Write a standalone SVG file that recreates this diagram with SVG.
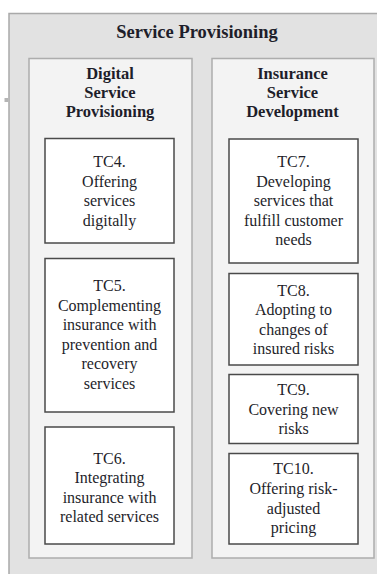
<svg xmlns="http://www.w3.org/2000/svg" width="377" height="574" viewBox="0 0 377 574">
  <style>
    .outer { fill: #e2e2e2; stroke: #a9a9a9; stroke-width: 1.5; }
    .panel { fill: #f3f3f3; stroke: #adadad; stroke-width: 1.5; }
    .box { fill: #ffffff; stroke: #4a4a4a; stroke-width: 1.5; }
    text { font-family: 'Liberation Serif', 'DejaVu Serif', 'Times New Roman', serif; fill: #1e1e2a; text-anchor: middle; }
    .title { font-size: 18.5px; font-weight: bold; }
    .head { font-size: 16.5px; font-weight: bold; }
    .lbl { font-size: 16px; }
  </style>
  <rect width="377" height="574" fill="#ffffff"/>

  <!-- outer container -->
  <g id="service-provisioning">
    <rect class="outer" x="9" y="13.5" width="380" height="575"/>
    <text class="title" x="197" y="38">Service Provisioning</text>
  </g>
  <rect x="4.5" y="98" width="4" height="4" fill="#b5b5b5"/>

  <!-- left panel -->
  <g id="digital-service-provisioning">
    <rect class="panel" x="29" y="58.5" width="163" height="499.5"/>
    <text class="head" x="110" y="79">Digital</text>
    <text class="head" x="110" y="98">Service</text>
    <text class="head" x="110" y="117">Provisioning</text>
  </g>

  <!-- right panel -->
  <g id="insurance-service-development">
    <rect class="panel" x="212" y="58.5" width="162" height="499.5"/>
    <text class="head" x="292.5" y="79">Insurance</text>
    <text class="head" x="292.5" y="98">Service</text>
    <text class="head" x="292.5" y="117">Development</text>
  </g>

  <g id="tc4">
    <rect class="box" x="45" y="138.5" width="129" height="104.5"/>
    <text class="lbl" x="109.5" y="167">TC4.</text>
    <text class="lbl" x="109.5" y="186.5">Offering</text>
    <text class="lbl" x="109.5" y="206">services</text>
    <text class="lbl" x="109.5" y="225.5">digitally</text>
  </g>

  <g id="tc5">
    <rect class="box" x="45" y="258.5" width="129" height="153.5"/>
    <text class="lbl" x="109.5" y="291">TC5.</text>
    <text class="lbl" x="109.5" y="310.5">Complementing</text>
    <text class="lbl" x="109.5" y="330">insurance with</text>
    <text class="lbl" x="109.5" y="349.5">prevention and</text>
    <text class="lbl" x="109.5" y="369">recovery</text>
    <text class="lbl" x="109.5" y="388.5">services</text>
  </g>

  <g id="tc6">
    <rect class="box" x="45" y="427" width="129" height="117"/>
    <text class="lbl" x="109.5" y="463.5">TC6.</text>
    <text class="lbl" x="109.5" y="483">Integrating</text>
    <text class="lbl" x="109.5" y="502.5">insurance with</text>
    <text class="lbl" x="109.5" y="522">related services</text>
  </g>

  <g id="tc7">
    <rect class="box" x="229" y="139" width="129" height="124"/>
    <text class="lbl" x="293.5" y="167">TC7.</text>
    <text class="lbl" x="293.5" y="186.5">Developing</text>
    <text class="lbl" x="293.5" y="206">services that</text>
    <text class="lbl" x="293.5" y="225.5">fulfill customer</text>
    <text class="lbl" x="293.5" y="245">needs</text>
  </g>

  <g id="tc8">
    <rect class="box" x="229" y="273.5" width="129" height="91.5"/>
    <text class="lbl" x="293.5" y="295.5">TC8.</text>
    <text class="lbl" x="293.5" y="315">Adopting to</text>
    <text class="lbl" x="293.5" y="334.5">changes of</text>
    <text class="lbl" x="293.5" y="354">insured risks</text>
  </g>

  <g id="tc9">
    <rect class="box" x="229" y="374.5" width="129" height="69"/>
    <text class="lbl" x="293.5" y="394.5">TC9.</text>
    <text class="lbl" x="293.5" y="414.5">Covering new</text>
    <text class="lbl" x="293.5" y="434">risks</text>
  </g>

  <g id="tc10">
    <rect class="box" x="229" y="453.5" width="129" height="90.5"/>
    <text class="lbl" x="293.5" y="473.5">TC10.</text>
    <text class="lbl" x="293.5" y="493.5">Offering risk-</text>
    <text class="lbl" x="293.5" y="513.5">adjusted</text>
    <text class="lbl" x="293.5" y="533">pricing</text>
  </g>

  <!-- no connectors between nodes -->
  <g id="connectors"/>
</svg>
